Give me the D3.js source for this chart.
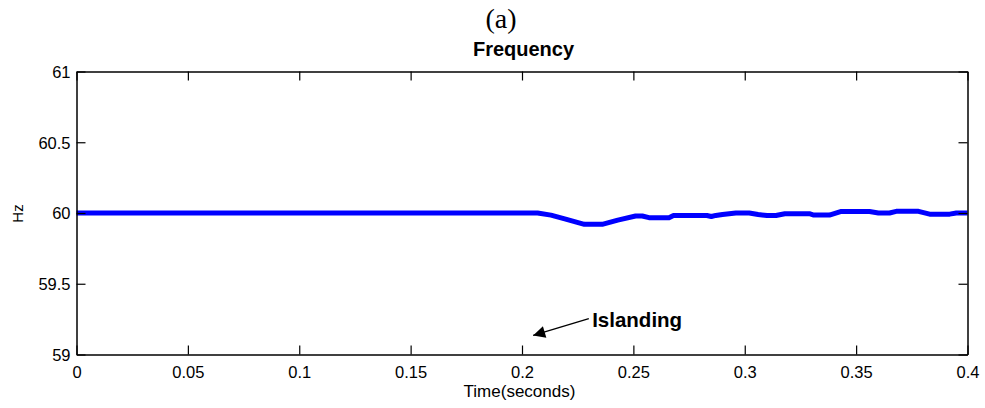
<!DOCTYPE html>
<html><head><meta charset="utf-8">
<script src="https://cdn.jsdelivr.net/npm/d3@7"></script>
<style>body{margin:0;background:#fff}svg{display:block}</style>
</head><body>
<script>
const timeValues = [0, 0.207, 0.213, 0.220, 0.228, 0.236, 0.243, 0.251, 0.254, 0.257, 0.266, 0.268, 0.283, 0.285, 0.287, 0.290, 0.296, 0.302, 0.306, 0.310, 0.314, 0.318, 0.329, 0.331, 0.338, 0.343, 0.356, 0.360, 0.365, 0.368, 0.378, 0.383, 0.392, 0.395, 0.4];
const freqValues = [60, 60, 59.985, 59.955, 59.92, 59.92, 59.95, 59.979, 59.979, 59.967, 59.967, 59.982, 59.982, 59.975, 59.983, 59.99, 60.0, 60.0, 59.99, 59.982, 59.982, 59.995, 59.995, 59.985, 59.985, 60.01, 60.01, 60.0, 60.0, 60.012, 60.012, 59.992, 59.992, 60.0, 60.0];
const xTicks = [0, 0.05, 0.1, 0.15, 0.2, 0.25, 0.3, 0.35, 0.4];
const xTickLabels = ["0", "0.05", "0.1", "0.15", "0.2", "0.25", "0.3", "0.35", "0.4"];
const yTicks = [59, 59.5, 60, 60.5, 61];
const yTickLabels = ["59", "59.5", "60", "60.5", "61"];

const W = 985, H = 408;
const L = 76.5, R = 967.5, T = 71.5, B = 354.5;
const svg = d3.select("body").append("svg").attr("width", W).attr("height", H);
const x = d3.scaleLinear().domain([0, 0.4]).range([L, R]);
const y = d3.scaleLinear().domain([59, 61]).range([B, T]);
const font = "Arial, 'Liberation Sans', sans-serif";

// line
svg.append("path")
  .datum(timeValues.map((t, i) => [t, freqValues[i]]))
  .attr("fill", "none").attr("stroke", "#0000ff").attr("stroke-width", 5)
  .attr("stroke-linejoin", "round")
  .attr("d", d3.line().x(d => x(d[0])).y(d => y(d[1])));

// axes
const tl = 9;
const xb = svg.append("g").attr("transform", `translate(0,${B})`)
  .call(d3.axisBottom(x).tickValues(xTicks).tickFormat((d, i) => xTickLabels[i]).tickSizeInner(-tl).tickSizeOuter(0).tickPadding(12));
const xt = svg.append("g").attr("transform", `translate(0,${T})`)
  .call(d3.axisTop(x).tickValues(xTicks).tickFormat("").tickSizeInner(-tl).tickSizeOuter(0));
const yl = svg.append("g").attr("transform", `translate(${L},0)`)
  .call(d3.axisLeft(y).tickValues(yTicks).tickFormat((d, i) => yTickLabels[i]).tickSizeInner(-tl).tickSizeOuter(0).tickPadding(6));
const yr = svg.append("g").attr("transform", `translate(${R},0)`)
  .call(d3.axisRight(y).tickValues(yTicks).tickFormat("").tickSizeInner(-tl).tickSizeOuter(0));
[xb, xt, yl, yr].forEach(g => {
  g.selectAll("path.domain").attr("stroke", "#000").attr("stroke-width", 1.5);
  g.selectAll(".tick line").attr("stroke", "#000").attr("stroke-width", 1.2);
  g.selectAll("text").attr("font-family", font).attr("font-size", 16.5).attr("fill", "#000");
});
yl.selectAll("text").attr("dy", "0.35em");

// texts
svg.append("text").attr("x", 501).attr("y", 27.5).attr("text-anchor", "middle")
  .attr("font-family", "'Liberation Serif', 'Times New Roman', serif").attr("font-size", 28).text("(a)");
svg.append("text").attr("x", 523.5).attr("y", 56).attr("text-anchor", "middle")
  .attr("font-family", font).attr("font-weight", "bold").attr("font-size", 20).text("Frequency");
svg.append("text").attr("transform", `translate(23,213.5) rotate(-90)`).attr("text-anchor", "middle")
  .attr("font-family", font).attr("font-size", 15).text("Hz");
svg.append("text").attr("x", 519.5).attr("y", 397).attr("text-anchor", "middle")
  .attr("font-family", font).attr("font-size", 17).text("Time(seconds)");

// annotation
svg.append("defs").append("marker").attr("id", "ah").attr("viewBox", "0 0 10 10")
  .attr("refX", 10).attr("refY", 5).attr("markerWidth", 18).attr("markerHeight", 12)
  .attr("markerUnits", "userSpaceOnUse").attr("orient", "auto")
  .append("path").attr("d", "M0,0 L10,5 L0,10 Z").attr("fill", "#000");
svg.append("line").attr("x1", x(0.2300)).attr("y1", y(59.253)).attr("x2", x(0.2050)).attr("y2", y(59.135))
  .attr("stroke", "#000").attr("stroke-width", 1.4).attr("marker-end", "url(#ah)");
svg.append("text").attr("x", x(0.2315)).attr("y", y(59.194)).attr("font-family", font).attr("font-weight", "bold")
  .attr("font-size", 20.5).text("Islanding");
</script>
</body></html>
